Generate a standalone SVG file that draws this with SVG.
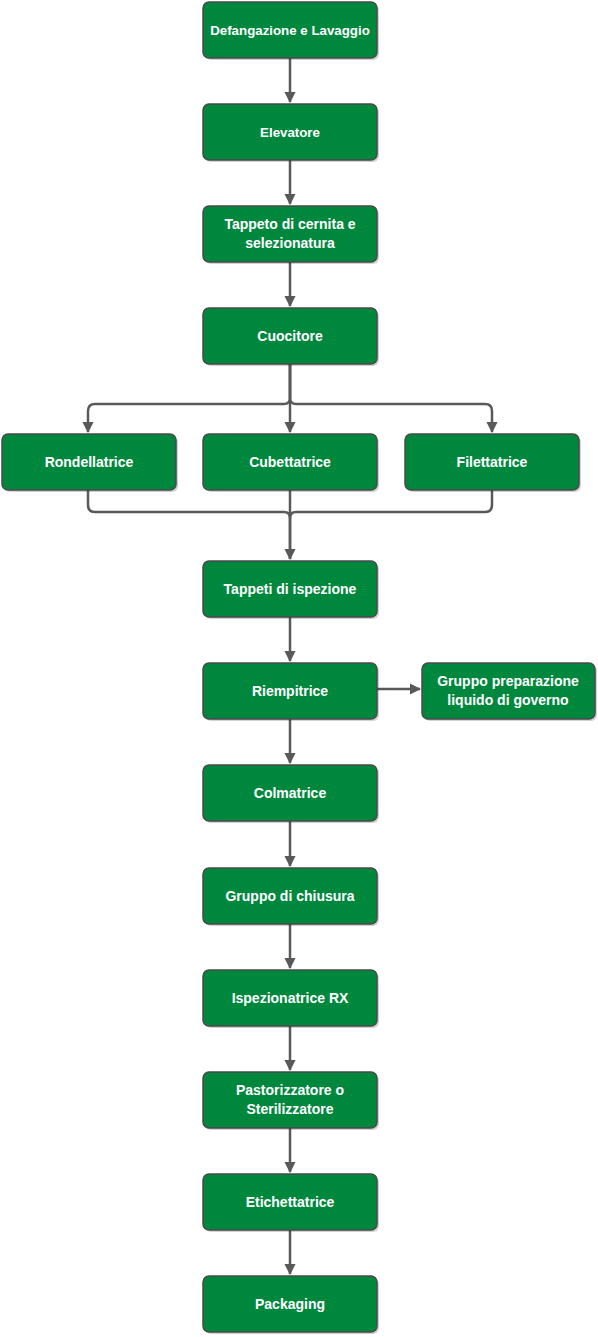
<svg xmlns="http://www.w3.org/2000/svg" width="598" height="1337" viewBox="0 0 598 1337">
<defs>
<style>
.box{fill:#00873E;stroke:#4a4a4a;stroke-width:1.5}
.sh{fill:#000;opacity:0.18}
.t{fill:#fff;font-family:"Liberation Sans",Arial,sans-serif;font-weight:bold;font-size:14px;text-anchor:middle}
.a{font-size:13.3px}
.c{fill:none;stroke:#595959;stroke-width:2.5}
</style>
<marker id="ar" viewBox="0 0 10 10" refX="9" refY="5" markerWidth="4.5" markerHeight="4.5" orient="auto" markerUnits="strokeWidth">
<path d="M0,0 L10,5 L0,10 z" fill="#595959"/>
</marker>
</defs>
<rect width="598" height="1337" fill="#fff"/>
<g id="connectors">
<path class="c" d="M290,58 V102" marker-end="url(#ar)"/>
<path class="c" d="M290,160 V204" marker-end="url(#ar)"/>
<path class="c" d="M290,262 V306" marker-end="url(#ar)"/>
<path class="c" d="M290,364 V432" marker-end="url(#ar)"/>
<path class="c" d="M290,364 V398 Q290,404 284,404 H95 Q88,404 88,411 V432" marker-end="url(#ar)"/>
<path class="c" d="M290,364 V398 Q290,404 296,404 H485 Q492,404 492,411 V432" marker-end="url(#ar)"/>
<path class="c" d="M88,490 V505 Q88,512 95,512 H284 Q290,512 290,518 V559" marker-end="url(#ar)"/>
<path class="c" d="M492,490 V505 Q492,512 485,512 H296 Q290,512 290,518"/>
<path class="c" d="M290,490 V559"/>
<path class="c" d="M290,617 V661" marker-end="url(#ar)"/>
<path class="c" d="M376,689 H420" marker-end="url(#ar)"/>
<path class="c" d="M290,719 V763" marker-end="url(#ar)"/>
<path class="c" d="M290,821 V866" marker-end="url(#ar)"/>
<path class="c" d="M290,924 V968" marker-end="url(#ar)"/>
<path class="c" d="M290,1026 V1070" marker-end="url(#ar)"/>
<path class="c" d="M290,1128 V1172" marker-end="url(#ar)"/>
<path class="c" d="M290,1230 V1274" marker-end="url(#ar)"/>
</g>
<g id="n1"><rect class="sh" x="205" y="4" width="174" height="56" rx="6"/><rect class="box" x="203" y="2" width="174" height="56" rx="6"/><text class="t a" x="290" y="34.5">Defangazione e Lavaggio</text></g>
<g id="n2"><rect class="sh" x="205" y="106" width="174" height="56" rx="6"/><rect class="box" x="203" y="104" width="174" height="56" rx="6"/><text class="t a" x="290" y="136.5">Elevatore</text></g>
<g id="n3"><rect class="sh" x="205" y="208" width="174" height="56" rx="6"/><rect class="box" x="203" y="206" width="174" height="56" rx="6"/><text class="t" x="290" y="229">Tappeto di cernita e</text><text class="t" x="290" y="248">selezionatura</text></g>
<g id="n4"><rect class="sh" x="205" y="310" width="174" height="56" rx="6"/><rect class="box" x="203" y="308" width="174" height="56" rx="6"/><text class="t" x="290" y="341">Cuocitore</text></g>
<g id="n5"><rect class="sh" x="4" y="436" width="174" height="56" rx="6"/><rect class="box" x="2" y="434" width="174" height="56" rx="6"/><text class="t" x="89" y="467">Rondellatrice</text></g>
<g id="n6"><rect class="sh" x="205" y="436" width="174" height="56" rx="6"/><rect class="box" x="203" y="434" width="174" height="56" rx="6"/><text class="t" x="290" y="467">Cubettatrice</text></g>
<g id="n7"><rect class="sh" x="407" y="436" width="174" height="56" rx="6"/><rect class="box" x="405" y="434" width="174" height="56" rx="6"/><text class="t" x="492" y="467">Filettatrice</text></g>
<g id="n8"><rect class="sh" x="205" y="563" width="174" height="56" rx="6"/><rect class="box" x="203" y="561" width="174" height="56" rx="6"/><text class="t" x="290" y="594">Tappeti di ispezione</text></g>
<g id="n9"><rect class="sh" x="205" y="665" width="174" height="56" rx="6"/><rect class="box" x="203" y="663" width="174" height="56" rx="6"/><text class="t" x="290" y="696">Riempitrice</text></g>
<g id="n10"><rect class="sh" x="424" y="665" width="173" height="56" rx="6"/><rect class="box" x="422" y="663" width="173" height="56" rx="6"/><text class="t" x="508" y="686">Gruppo preparazione</text><text class="t" x="508" y="705">liquido di governo</text></g>
<g id="n11"><rect class="sh" x="205" y="767" width="174" height="56" rx="6"/><rect class="box" x="203" y="765" width="174" height="56" rx="6"/><text class="t" x="290" y="798">Colmatrice</text></g>
<g id="n12"><rect class="sh" x="205" y="870" width="174" height="56" rx="6"/><rect class="box" x="203" y="868" width="174" height="56" rx="6"/><text class="t" x="290" y="901">Gruppo di chiusura</text></g>
<g id="n13"><rect class="sh" x="205" y="972" width="174" height="56" rx="6"/><rect class="box" x="203" y="970" width="174" height="56" rx="6"/><text class="t" x="290" y="1003">Ispezionatrice RX</text></g>
<g id="n14"><rect class="sh" x="205" y="1074" width="174" height="56" rx="6"/><rect class="box" x="203" y="1072" width="174" height="56" rx="6"/><text class="t" x="290" y="1095">Pastorizzatore o</text><text class="t" x="290" y="1114">Sterilizzatore</text></g>
<g id="n15"><rect class="sh" x="205" y="1176" width="174" height="56" rx="6"/><rect class="box" x="203" y="1174" width="174" height="56" rx="6"/><text class="t" x="290" y="1207">Etichettatrice</text></g>
<g id="n16"><rect class="sh" x="205" y="1278" width="174" height="56" rx="6"/><rect class="box" x="203" y="1276" width="174" height="56" rx="6"/><text class="t" x="290" y="1309">Packaging</text></g>
</svg>
